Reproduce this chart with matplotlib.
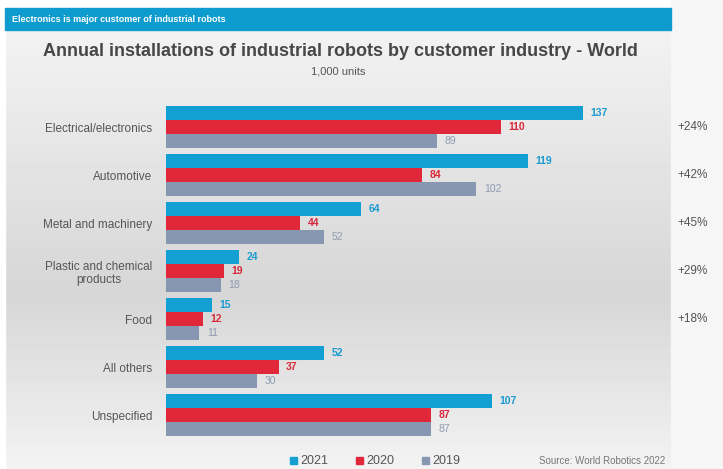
import matplotlib.pyplot as plt
import numpy as np
from matplotlib.patches import Rectangle

plt.rcParams['font.family'] = ['Liberation Sans', 'DejaVu Sans']

industries = ['Electrical/electronics', 'Automotive', 'Metal and machinery',
              'Plastic and chemical\nproducts', 'Food', 'All others', 'Unspecified']
years = ['2021', '2020', '2019']
v2021 = [137, 119, 64, 24, 15, 52, 107]
v2020 = [110, 84, 44, 19, 12, 37, 87]
v2019 = [89, 102, 52, 18, 11, 30, 87]
growth = ['+24%', '+42%', '+45%', '+29%', '+18%']

colors = ['#139fd2', '#e0283a', '#8797b2']
label_colors = ['#1a9bd0', '#d8283a', '#8e9ab0']

W, H = 723, 469
fig = plt.figure(figsize=(W / 100, H / 100), dpi=100)

# background with vertical gradient
bg = fig.add_axes([0, 0, 1, 1])
bg.set_xlim(0, W)
bg.set_ylim(H, 0)
bg.axis('off')
grad = np.concatenate([np.linspace(0.95, 0.84, 60), np.linspace(0.84, 0.95, 40)])
bg.imshow(grad[:, None], extent=[5, 671, H, 30], cmap='gray', vmin=0, vmax=1,
          aspect='auto', zorder=0)
bg.add_patch(Rectangle((671, 0), 52, H, color='#f6f6f6', zorder=1))
bg.add_patch(Rectangle((0, 0), 5, H, color='#ffffff', zorder=1))
bg.add_patch(Rectangle((5, 8), 666, 22, color='#0d9ccd', zorder=2))
bg.text(12, 19, 'Electronics is major customer of industrial robots', color='white',
        fontsize=6.5, fontweight='bold', va='center', zorder=3)
bg.text(340, 51, 'Annual installations of industrial robots by customer industry - World',
        color='#474747', fontsize=13, fontweight='bold', ha='center', va='center')
bg.text(338, 71, '1,000 units', color='#555555', fontsize=8, ha='center', va='center')

# bar chart
ax = fig.add_axes([166 / W, 1 - 439 / H, 505 / W, 336 / H])
ax.patch.set_alpha(0)
y = np.arange(len(industries))
h = 0.29
for k, vals in enumerate([v2021, v2020, v2019]):
    pos = y + (k - 1) * h
    ax.barh(pos, vals, height=h - 0.015, color=colors[k], label=years[k])
    for p, v in zip(pos, vals):
        ax.text(v + 2.5, p, str(v), color=label_colors[k], fontsize=7.5,
                fontweight='bold' if k < 2 else 'normal', va='center')
ax.set_xlim(0, 166)
ax.set_ylim(len(industries) - 0.5, -0.5)
ax.set_yticks(y)
ax.set_yticklabels(industries, color='#555555', fontsize=8.5, ha='right',
                   multialignment='center')
ax.tick_params(axis='y', length=0, pad=10)
ax.set_xticks([])
for s in ax.spines.values():
    s.set_visible(False)

for i, g in enumerate(growth):
    ax.text(168, i, g, color='#555555', fontsize=8.5, va='center', clip_on=False)

# legend
for k, yr in enumerate(years):
    x0 = 290 + k * 66
    bg.add_patch(Rectangle((x0, 457), 7, 7, color=colors[k], zorder=3))
    bg.text(x0 + 10, 461, yr, color='#555555', fontsize=9, va='center', zorder=3)
bg.text(665, 461, 'Source: World Robotics 2022', color='#777777', fontsize=7,
        ha='right', va='center', zorder=3)

fig.savefig('out.png', dpi=100)
